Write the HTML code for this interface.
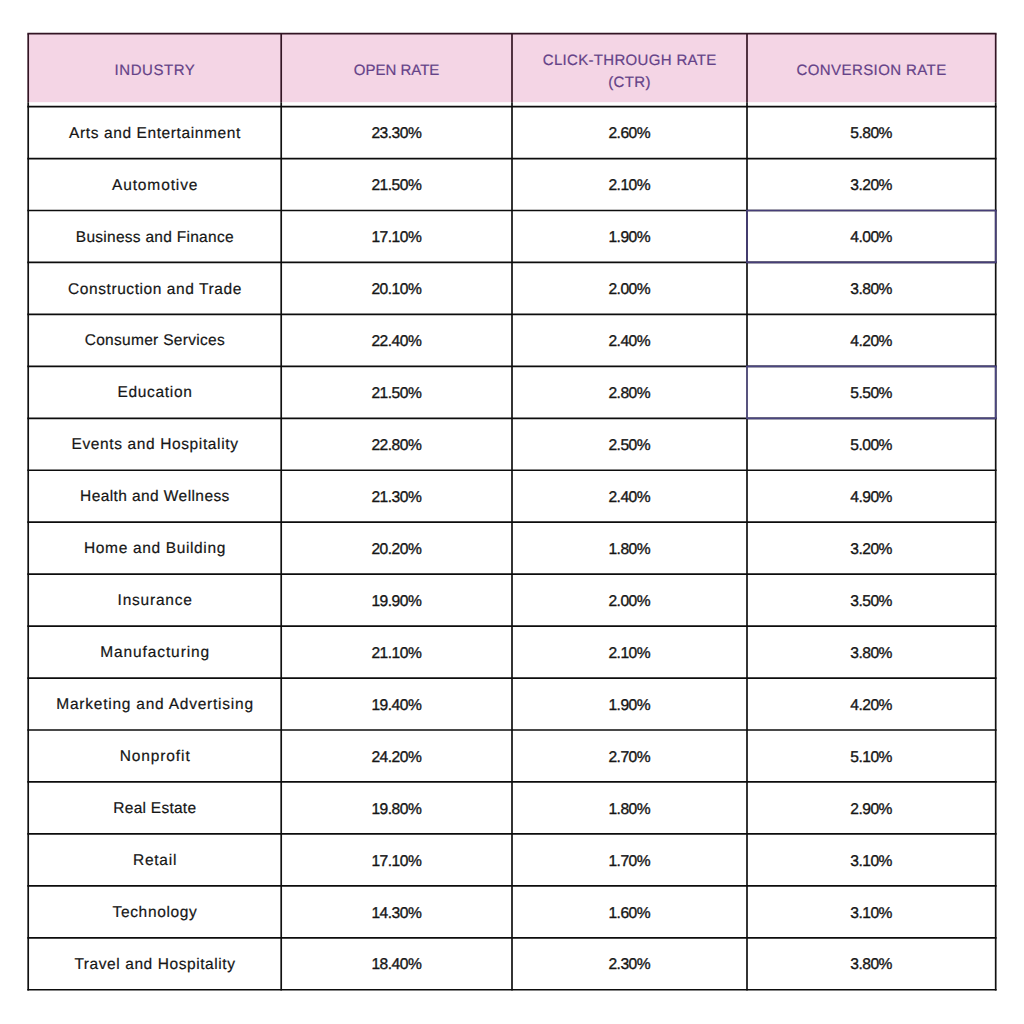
<!DOCTYPE html>
<html><head><meta charset="utf-8">
<style>
html,body{margin:0;padding:0;background:#fff;width:1024px;height:1024px;overflow:hidden}
body{position:relative;font-family:"Liberation Sans",sans-serif;text-rendering:geometricPrecision}
svg{position:absolute;left:0;top:0}
.h{position:absolute;top:33.7px;height:72.89999999999999px;display:flex;align-items:center;justify-content:center;text-align:center;color:#654288;font-size:15px;letter-spacing:0.6px;line-height:22.4px;-webkit-text-stroke:0.2px #654288}
.c{position:absolute;height:51.95px;display:flex;align-items:center;justify-content:center;color:#161616;white-space:nowrap;-webkit-text-stroke:0.2px #161616}
.t{font-size:15.5px;box-sizing:border-box;padding-top:2.2px}
.n{font-size:15.6px;letter-spacing:-0.5px;text-indent:-0.5px;box-sizing:border-box;padding-top:3.4px;-webkit-text-stroke:0.35px #161616}
</style></head><body>
<svg width="1024" height="1024" viewBox="0 0 1024 1024">
<rect x="28.2" y="33.7" width="967.5" height="68.5" fill="#f4d5e5"/>
<line x1="28.2" y1="33.7" x2="28.2" y2="102.2" stroke="#331524" stroke-width="1.7"/>
<line x1="281.2" y1="33.7" x2="281.2" y2="102.2" stroke="#331524" stroke-width="1.7"/>
<line x1="512.0" y1="33.7" x2="512.0" y2="102.2" stroke="#331524" stroke-width="1.7"/>
<line x1="747.0" y1="33.7" x2="747.0" y2="102.2" stroke="#331524" stroke-width="1.7"/>
<line x1="995.7" y1="33.7" x2="995.7" y2="102.2" stroke="#331524" stroke-width="1.7"/>
<line x1="27.349999999999998" y1="33.7" x2="996.5500000000001" y2="33.7" stroke="#331524" stroke-width="1.7"/>
<line x1="28.2" y1="102.2" x2="28.2" y2="990.6000000000001" stroke="#111" stroke-width="1.7"/>
<line x1="281.2" y1="102.2" x2="281.2" y2="990.6000000000001" stroke="#111" stroke-width="1.7"/>
<line x1="512.0" y1="102.2" x2="512.0" y2="990.6000000000001" stroke="#111" stroke-width="1.7"/>
<line x1="747.0" y1="102.2" x2="747.0" y2="990.6000000000001" stroke="#111" stroke-width="1.7"/>
<line x1="995.7" y1="102.2" x2="995.7" y2="990.6000000000001" stroke="#111" stroke-width="1.7"/>
<line x1="27.349999999999998" y1="106.6" x2="996.5500000000001" y2="106.6" stroke="#0c0c0c" stroke-width="1.7"/>
<line x1="27.349999999999998" y1="158.55" x2="996.5500000000001" y2="158.55" stroke="#0c0c0c" stroke-width="1.7"/>
<line x1="27.349999999999998" y1="210.5" x2="996.5500000000001" y2="210.5" stroke="#0c0c0c" stroke-width="1.7"/>
<line x1="27.349999999999998" y1="262.45000000000005" x2="996.5500000000001" y2="262.45000000000005" stroke="#0c0c0c" stroke-width="1.7"/>
<line x1="27.349999999999998" y1="314.4" x2="996.5500000000001" y2="314.4" stroke="#0c0c0c" stroke-width="1.7"/>
<line x1="27.349999999999998" y1="366.35" x2="996.5500000000001" y2="366.35" stroke="#0c0c0c" stroke-width="1.7"/>
<line x1="27.349999999999998" y1="418.30000000000007" x2="996.5500000000001" y2="418.30000000000007" stroke="#0c0c0c" stroke-width="1.7"/>
<line x1="27.349999999999998" y1="470.25" x2="996.5500000000001" y2="470.25" stroke="#0c0c0c" stroke-width="1.7"/>
<line x1="27.349999999999998" y1="522.2" x2="996.5500000000001" y2="522.2" stroke="#0c0c0c" stroke-width="1.7"/>
<line x1="27.349999999999998" y1="574.15" x2="996.5500000000001" y2="574.15" stroke="#0c0c0c" stroke-width="1.7"/>
<line x1="27.349999999999998" y1="626.1" x2="996.5500000000001" y2="626.1" stroke="#0c0c0c" stroke-width="1.7"/>
<line x1="27.349999999999998" y1="678.0500000000001" x2="996.5500000000001" y2="678.0500000000001" stroke="#0c0c0c" stroke-width="1.7"/>
<line x1="27.349999999999998" y1="730.0000000000001" x2="996.5500000000001" y2="730.0000000000001" stroke="#0c0c0c" stroke-width="1.7"/>
<line x1="27.349999999999998" y1="781.95" x2="996.5500000000001" y2="781.95" stroke="#0c0c0c" stroke-width="1.7"/>
<line x1="27.349999999999998" y1="833.9000000000001" x2="996.5500000000001" y2="833.9000000000001" stroke="#0c0c0c" stroke-width="1.7"/>
<line x1="27.349999999999998" y1="885.85" x2="996.5500000000001" y2="885.85" stroke="#0c0c0c" stroke-width="1.7"/>
<line x1="27.349999999999998" y1="937.8000000000001" x2="996.5500000000001" y2="937.8000000000001" stroke="#0c0c0c" stroke-width="1.7"/>
<line x1="27.349999999999998" y1="989.7500000000001" x2="996.5500000000001" y2="989.7500000000001" stroke="#0c0c0c" stroke-width="1.7"/>
<line x1="747.0" y1="210.5" x2="747.0" y2="262.45000000000005" stroke="#463e78" stroke-width="1.7"/>
<line x1="995.7" y1="210.5" x2="995.7" y2="262.45000000000005" stroke="#463e78" stroke-width="1.7"/>
<line x1="746.15" y1="210.5" x2="996.5500000000001" y2="210.5" stroke="#463e78" stroke-width="1.7"/>
<line x1="746.15" y1="262.45000000000005" x2="996.5500000000001" y2="262.45000000000005" stroke="#463e78" stroke-width="1.7"/>
<line x1="747.0" y1="366.35" x2="747.0" y2="418.30000000000007" stroke="#5f5a8c" stroke-width="1.7"/>
<line x1="995.7" y1="366.35" x2="995.7" y2="418.30000000000007" stroke="#4a4580" stroke-width="1.7"/>
<line x1="746.15" y1="366.35" x2="996.5500000000001" y2="366.35" stroke="#4a4580" stroke-width="1.7"/>
<line x1="746.15" y1="418.30000000000007" x2="996.5500000000001" y2="418.30000000000007" stroke="#4a4580" stroke-width="1.7"/>
</svg>
<div class="h" style="left:28.2px;width:253.0px;top:34.900000000000006px;letter-spacing:0.54px;text-indent:0.54px">INDUSTRY</div>
<div class="h" style="left:281.2px;width:230.8px;top:34.900000000000006px;letter-spacing:0.0px;text-indent:0.0px">OPEN RATE</div>
<div class="h" style="left:512.0px;width:235.0px;top:35.7px;letter-spacing:0.32px;text-indent:0.32px">CLICK-THROUGH RATE<br>(CTR)</div>
<div class="h" style="left:747.0px;width:248.70000000000005px;top:34.900000000000006px;letter-spacing:0.41px;text-indent:0.41px">CONVERSION RATE</div>
<div class="c t" style="left:28.2px;width:253.0px;top:106.60px;letter-spacing:0.605px;text-indent:0.605px">Arts and Entertainment</div>
<div class="c n" style="left:281.2px;width:230.8px;top:106.60px">23.30%</div>
<div class="c n" style="left:512.0px;width:235.0px;top:106.60px">2.60%</div>
<div class="c n" style="left:747.0px;width:248.70000000000005px;top:106.60px">5.80%</div>
<div class="c t" style="left:28.2px;width:253.0px;top:158.55px;letter-spacing:0.878px;text-indent:0.878px">Automotive</div>
<div class="c n" style="left:281.2px;width:230.8px;top:158.55px">21.50%</div>
<div class="c n" style="left:512.0px;width:235.0px;top:158.55px">2.10%</div>
<div class="c n" style="left:747.0px;width:248.70000000000005px;top:158.55px">3.20%</div>
<div class="c t" style="left:28.2px;width:253.0px;top:210.50px;letter-spacing:0.274px;text-indent:0.274px">Business and Finance</div>
<div class="c n" style="left:281.2px;width:230.8px;top:210.50px">17.10%</div>
<div class="c n" style="left:512.0px;width:235.0px;top:210.50px">1.90%</div>
<div class="c n" style="left:747.0px;width:248.70000000000005px;top:210.50px">4.00%</div>
<div class="c t" style="left:28.2px;width:253.0px;top:262.45px;letter-spacing:0.576px;text-indent:0.576px">Construction and Trade</div>
<div class="c n" style="left:281.2px;width:230.8px;top:262.45px">20.10%</div>
<div class="c n" style="left:512.0px;width:235.0px;top:262.45px">2.00%</div>
<div class="c n" style="left:747.0px;width:248.70000000000005px;top:262.45px">3.80%</div>
<div class="c t" style="left:28.2px;width:253.0px;top:314.40px;letter-spacing:0.300px;text-indent:0.300px">Consumer Services</div>
<div class="c n" style="left:281.2px;width:230.8px;top:314.40px">22.40%</div>
<div class="c n" style="left:512.0px;width:235.0px;top:314.40px">2.40%</div>
<div class="c n" style="left:747.0px;width:248.70000000000005px;top:314.40px">4.20%</div>
<div class="c t" style="left:28.2px;width:253.0px;top:366.35px;letter-spacing:0.675px;text-indent:0.675px">Education</div>
<div class="c n" style="left:281.2px;width:230.8px;top:366.35px">21.50%</div>
<div class="c n" style="left:512.0px;width:235.0px;top:366.35px">2.80%</div>
<div class="c n" style="left:747.0px;width:248.70000000000005px;top:366.35px">5.50%</div>
<div class="c t" style="left:28.2px;width:253.0px;top:418.30px;letter-spacing:0.624px;text-indent:0.624px">Events and Hospitality</div>
<div class="c n" style="left:281.2px;width:230.8px;top:418.30px">22.80%</div>
<div class="c n" style="left:512.0px;width:235.0px;top:418.30px">2.50%</div>
<div class="c n" style="left:747.0px;width:248.70000000000005px;top:418.30px">5.00%</div>
<div class="c t" style="left:28.2px;width:253.0px;top:470.25px;letter-spacing:0.411px;text-indent:0.411px">Health and Wellness</div>
<div class="c n" style="left:281.2px;width:230.8px;top:470.25px">21.30%</div>
<div class="c n" style="left:512.0px;width:235.0px;top:470.25px">2.40%</div>
<div class="c n" style="left:747.0px;width:248.70000000000005px;top:470.25px">4.90%</div>
<div class="c t" style="left:28.2px;width:253.0px;top:522.20px;letter-spacing:0.650px;text-indent:0.650px">Home and Building</div>
<div class="c n" style="left:281.2px;width:230.8px;top:522.20px">20.20%</div>
<div class="c n" style="left:512.0px;width:235.0px;top:522.20px">1.80%</div>
<div class="c n" style="left:747.0px;width:248.70000000000005px;top:522.20px">3.20%</div>
<div class="c t" style="left:28.2px;width:253.0px;top:574.15px;letter-spacing:0.775px;text-indent:0.775px">Insurance</div>
<div class="c n" style="left:281.2px;width:230.8px;top:574.15px">19.90%</div>
<div class="c n" style="left:512.0px;width:235.0px;top:574.15px">2.00%</div>
<div class="c n" style="left:747.0px;width:248.70000000000005px;top:574.15px">3.50%</div>
<div class="c t" style="left:28.2px;width:253.0px;top:626.10px;letter-spacing:0.900px;text-indent:0.900px">Manufacturing</div>
<div class="c n" style="left:281.2px;width:230.8px;top:626.10px">21.10%</div>
<div class="c n" style="left:512.0px;width:235.0px;top:626.10px">2.10%</div>
<div class="c n" style="left:747.0px;width:248.70000000000005px;top:626.10px">3.80%</div>
<div class="c t" style="left:28.2px;width:253.0px;top:678.05px;letter-spacing:0.767px;text-indent:0.767px">Marketing and Advertising</div>
<div class="c n" style="left:281.2px;width:230.8px;top:678.05px">19.40%</div>
<div class="c n" style="left:512.0px;width:235.0px;top:678.05px">1.90%</div>
<div class="c n" style="left:747.0px;width:248.70000000000005px;top:678.05px">4.20%</div>
<div class="c t" style="left:28.2px;width:253.0px;top:730.00px;letter-spacing:0.900px;text-indent:0.900px">Nonprofit</div>
<div class="c n" style="left:281.2px;width:230.8px;top:730.00px">24.20%</div>
<div class="c n" style="left:512.0px;width:235.0px;top:730.00px">2.70%</div>
<div class="c n" style="left:747.0px;width:248.70000000000005px;top:730.00px">5.10%</div>
<div class="c t" style="left:28.2px;width:253.0px;top:781.95px;letter-spacing:0.260px;text-indent:0.260px">Real Estate</div>
<div class="c n" style="left:281.2px;width:230.8px;top:781.95px">19.80%</div>
<div class="c n" style="left:512.0px;width:235.0px;top:781.95px">1.80%</div>
<div class="c n" style="left:747.0px;width:248.70000000000005px;top:781.95px">2.90%</div>
<div class="c t" style="left:28.2px;width:253.0px;top:833.90px;letter-spacing:0.740px;text-indent:0.740px">Retail</div>
<div class="c n" style="left:281.2px;width:230.8px;top:833.90px">17.10%</div>
<div class="c n" style="left:512.0px;width:235.0px;top:833.90px">1.70%</div>
<div class="c n" style="left:747.0px;width:248.70000000000005px;top:833.90px">3.10%</div>
<div class="c t" style="left:28.2px;width:253.0px;top:885.85px;letter-spacing:0.656px;text-indent:0.656px">Technology</div>
<div class="c n" style="left:281.2px;width:230.8px;top:885.85px">14.30%</div>
<div class="c n" style="left:512.0px;width:235.0px;top:885.85px">1.60%</div>
<div class="c n" style="left:747.0px;width:248.70000000000005px;top:885.85px">3.10%</div>
<div class="c t" style="left:28.2px;width:253.0px;top:937.80px;letter-spacing:0.576px;text-indent:0.576px">Travel and Hospitality</div>
<div class="c n" style="left:281.2px;width:230.8px;top:937.80px">18.40%</div>
<div class="c n" style="left:512.0px;width:235.0px;top:937.80px">2.30%</div>
<div class="c n" style="left:747.0px;width:248.70000000000005px;top:937.80px">3.80%</div>
</body></html>
